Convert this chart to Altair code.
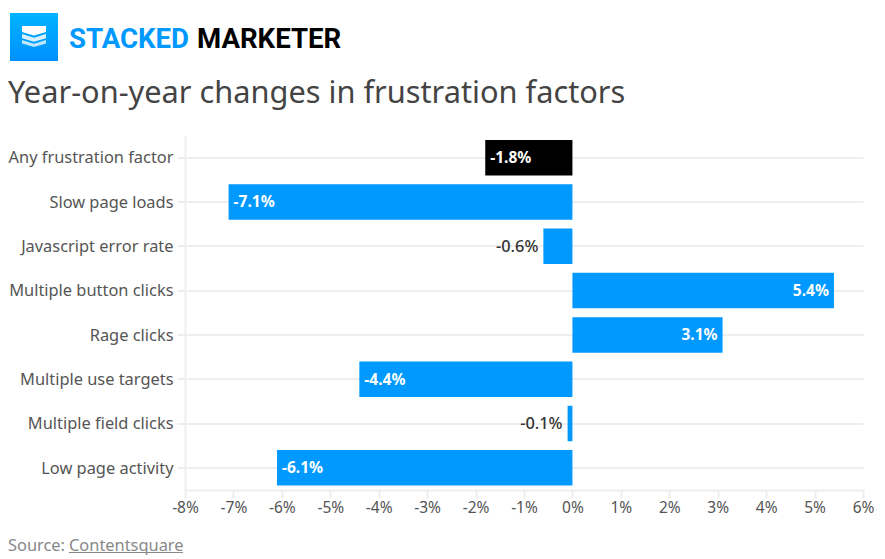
import altair as alt
import pandas as pd

categories = ["Any frustration factor", "Slow page loads", "Javascript error rate", "Multiple button clicks",
              "Rage clicks", "Multiple use targets", "Multiple field clicks", "Low page activity"]
values = [-1.8, -7.1, -0.6, 5.4, 3.1, -4.4, -0.1, -6.1]
x_ticks = [-8, -7, -6, -5, -4, -3, -2, -1, 0, 1, 2, 3, 4, 5, 6]
BLUE, BLACK = "#0099ff", "#000000"
FONT = "Noto Sans"

LEFT, TOP = 177, 127.5
W, H = 678, 354.5

df = pd.DataFrame({"cat": categories, "val": values})
df["label"] = [f"{v:.1f}%" for v in values]
df["kind"] = ["total"] + ["item"] * 7
df["place"] = ["neg_in" if v < 0 and abs(v) >= 1 else ("neg_out" if v < 0 else "pos_in") for v in values]

y = alt.Y("cat:N", sort=categories, title=None,
          scale=alt.Scale(paddingInner=0.2, paddingOuter=0.1),
          axis=alt.Axis(grid=True, gridColor="#eeeeee", gridWidth=2, tickColor="#eeeeee", tickWidth=2, tickSize=8,
                        domainColor="#eeeeee", domainWidth=2, labelFont=FONT, labelFontSize=16.4, labelColor="#555555",
                        labelPadding=4, labelLimit=175, labelOffset=0.7))
x = alt.X("val:Q", title=None, scale=alt.Scale(domain=[-8, 6], nice=False),
          axis=alt.Axis(values=x_ticks, labelExpr="datum.value + '%'", grid=False, tickColor="#eeeeee", tickWidth=2,
                        tickSize=8, domainColor="#eeeeee", domainWidth=2, labelFont=FONT, labelFontSize=15.5,
                        labelColor="#555555", labelPadding=2, labelFlush=False, labelOverlap=False))

bars = alt.Chart(df).mark_bar().encode(
    y=y, x=x, x2=alt.datum(0),
    color=alt.Color("kind:N", scale=alt.Scale(domain=["total", "item"], range=[BLACK, BLUE]), legend=None))


def vlabels(place, align, dx, color, size):
    return alt.Chart(df).transform_filter(alt.datum.place == place).mark_text(
        align=align, dx=dx, dy=0.5, font=FONT, fontSize=size, fontWeight="bold" if color == "white" else 500, color=color
    ).encode(y=alt.Y("cat:N", sort=categories), x=alt.X("val:Q"), text="label:N")


def decor(text, px, py, size, color, weight="normal", font=FONT):
    return alt.Chart(alt.Data(values=[{"t": text}])).mark_text(
        align="left", baseline="alphabetic", font=font, fontSize=size, fontWeight=weight, color=color,
    ).encode(x=alt.value(px - 8 - LEFT), y=alt.value(py - 8 - TOP), text="t:N")


logo_fill = alt.Gradient(gradient="linear", x1=0.5, y1=0, x2=0.5, y2=1,
                         stops=[alt.GradientStop(color="#00b4ff", offset=0),
                                alt.GradientStop(color="#0090ff", offset=1)])
logo = alt.Chart(alt.Data(values=[{"a": 1}])).mark_rect(color=logo_fill).encode(
    x=alt.value(10 - 8 - LEFT), x2=alt.value(58 - 8 - LEFT), y=alt.value(13 - 8 - TOP), y2=alt.value(61 - 8 - TOP))

chevron_top = "M-1,-0.88 L1,-0.88 L1,-0.38 L0,-0.08 L-1,-0.38 Z"
chevron_mid = "M-1,-0.2 L0,0.1 L1,-0.2 L1,0.14 L0,0.44 L-1,0.14 Z"
chevron_low = "M-1,0.3 L0,0.6 L1,0.3 L1,0.58 L0,0.88 L-1,0.58 Z"
chevrons = [
    alt.Chart(alt.Data(values=[{"a": 1}])).mark_point(shape=s, filled=True, fill="white", opacity=o, strokeWidth=0,
                                                      size=576).encode(
        x=alt.value(34 - 8 - LEFT), y=alt.value(36.5 - 8 - TOP))
    for s, o in [(chevron_top, 1), (chevron_mid, 0.85), (chevron_low, 0.75)]
]

source_rule = alt.Chart(alt.Data(values=[{"a": 1}])).mark_rule(color="#888888", strokeWidth=1).encode(
    x=alt.value(69 - 8 - LEFT), x2=alt.value(183 - 8 - LEFT), y=alt.value(552.5 - 8 - TOP))

chart = alt.layer(
    bars,
    vlabels("neg_in", "left", 5, "white", 15.5),
    vlabels("pos_in", "right", -5, "white", 15.5),
    vlabels("neg_out", "right", -5, "#333333", 16.4),
    logo, *chevrons,
    decor("STACKED", 69, 47.5, 27.6, BLUE, "bold", "Roboto"),
    decor("MARKETER", 197, 47.5, 27.6, BLACK, "bold", "Roboto"),
    decor("Year-on-year changes in frustration factors", 8, 103, 30.75, "#444444"),
    decor("Source:", 8, 551, 16.4, "#888888"),
    decor("Contentsquare", 69, 551, 16.4, "#888888"),
    source_rule,
).properties(
    width=W, height=H,
    autosize=alt.AutoSizeParams(type="none"),
    padding={"left": LEFT, "top": TOP, "right": 14, "bottom": 65},
    background="white",
).configure_view(stroke=None)

chart.save("out.html", embed_options={"renderer": "svg", "actions": False})
